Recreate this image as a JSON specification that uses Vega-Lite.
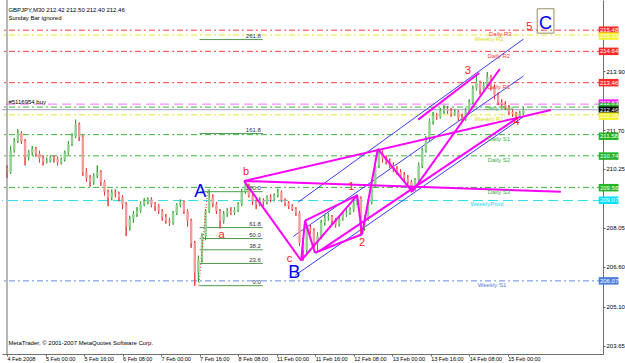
{
"$schema":"https://vega.github.io/schema/vega-lite/v6.json",
"width":601,"height":354,
"autosize":{"type":"none"},
"padding":{"left":2,"top":0,"right":22,"bottom":9},
"background":"#ffffff",
"config":{"view":{"stroke":null},"font":"Liberation Sans","axis":{"grid":false,"domainColor":"#707070","tickColor":"#606060","labelColor":"#000000","labelFont":"Liberation Sans","labelOverlap":false},"axisY":{"labelOverlap":false}},
"resolve":{"scale":{"color":"independent","strokeDash":"independent","strokeWidth":"independent"}},
"datasets":{
"levels":[{"kind":"dR","p":215.43},{"kind":"wR","p":215.25},{"kind":"dR","p":214.64},{"kind":"dR","p":213.47},{"kind":"ord","p":212.67},{"kind":"dS","p":212.56},{"kind":"bid","p":212.46},{"kind":"wR","p":212.27},{"kind":"dS","p":211.53},{"kind":"dS","p":210.74},{"kind":"dS","p":209.56},{"kind":"wP","p":209.07},{"kind":"wS","p":206.07}],
"fib":[{"lab":"261.8","p":215.08},{"lab":"161.8","p":211.57},{"lab":"100.0","p":209.40},{"lab":"61.8","p":208.06},{"lab":"50.0","p":207.65},{"lab":"38.2","p":207.23},{"lab":"23.6","p":206.72},{"lab":"0.0","p":205.89}],
"candles":[
{"i":0,"o":210.28,"h":210.38,"l":209.91,"c":210.13},
{"i":3,"o":210.13,"h":211.11,"l":210.06,"c":210.93},
{"i":6,"o":210.93,"h":211.40,"l":210.86,"c":211.29},
{"i":9,"o":211.29,"h":211.73,"l":211.22,"c":211.58},
{"i":12,"o":211.58,"h":211.65,"l":211.18,"c":211.29},
{"i":15,"o":211.29,"h":211.36,"l":210.38,"c":210.71},
{"i":18,"o":210.71,"h":210.96,"l":210.57,"c":210.86},
{"i":21,"o":210.86,"h":211.11,"l":210.75,"c":211.00},
{"i":24,"o":211.00,"h":211.07,"l":210.71,"c":210.82},
{"i":27,"o":210.82,"h":210.93,"l":210.49,"c":210.64},
{"i":30,"o":210.64,"h":210.75,"l":210.38,"c":210.53},
{"i":33,"o":210.53,"h":210.67,"l":210.46,"c":210.57},
{"i":36,"o":210.57,"h":210.75,"l":210.49,"c":210.67},
{"i":39,"o":210.67,"h":210.75,"l":210.49,"c":210.64},
{"i":42,"o":210.64,"h":210.71,"l":210.38,"c":210.49},
{"i":45,"o":210.49,"h":210.67,"l":210.42,"c":210.60},
{"i":48,"o":210.60,"h":210.93,"l":210.53,"c":210.86},
{"i":51,"o":210.86,"h":211.29,"l":210.78,"c":211.18},
{"i":54,"o":211.18,"h":211.58,"l":211.11,"c":211.47},
{"i":57,"o":211.47,"h":212.09,"l":211.40,"c":211.91},
{"i":60,"o":211.91,"h":211.98,"l":211.29,"c":211.44},
{"i":63,"o":211.44,"h":211.51,"l":209.99,"c":210.13},
{"i":66,"o":210.13,"h":210.28,"l":209.77,"c":209.91},
{"i":69,"o":209.91,"h":210.02,"l":209.59,"c":209.77},
{"i":72,"o":209.77,"h":210.09,"l":209.66,"c":209.99},
{"i":75,"o":209.99,"h":210.38,"l":209.91,"c":210.13},
{"i":78,"o":210.13,"h":210.20,"l":209.62,"c":209.77},
{"i":81,"o":209.77,"h":209.84,"l":209.26,"c":209.40},
{"i":84,"o":209.40,"h":209.48,"l":208.86,"c":209.19},
{"i":87,"o":209.19,"h":209.48,"l":209.08,"c":209.37},
{"i":90,"o":209.37,"h":209.48,"l":209.19,"c":209.33},
{"i":93,"o":209.33,"h":209.40,"l":209.04,"c":209.19},
{"i":96,"o":209.19,"h":209.26,"l":208.75,"c":208.93},
{"i":99,"o":208.93,"h":209.01,"l":207.74,"c":208.10},
{"i":102,"o":208.10,"h":208.50,"l":207.95,"c":208.39},
{"i":105,"o":208.39,"h":208.68,"l":208.24,"c":208.57},
{"i":108,"o":208.57,"h":208.82,"l":208.46,"c":208.68},
{"i":111,"o":208.68,"h":209.04,"l":208.61,"c":208.93},
{"i":114,"o":208.93,"h":209.15,"l":208.86,"c":209.04},
{"i":117,"o":209.04,"h":209.19,"l":208.93,"c":209.11},
{"i":120,"o":209.11,"h":209.19,"l":208.82,"c":208.93},
{"i":123,"o":208.93,"h":209.01,"l":208.68,"c":208.86},
{"i":126,"o":208.86,"h":208.93,"l":208.57,"c":208.68},
{"i":129,"o":208.68,"h":208.75,"l":208.32,"c":208.46},
{"i":132,"o":208.46,"h":208.57,"l":208.21,"c":208.32},
{"i":135,"o":208.32,"h":208.42,"l":208.13,"c":208.24},
{"i":138,"o":208.24,"h":208.68,"l":208.17,"c":208.61},
{"i":141,"o":208.61,"h":208.97,"l":208.53,"c":208.90},
{"i":144,"o":208.90,"h":209.11,"l":208.82,"c":209.01},
{"i":147,"o":209.01,"h":209.08,"l":208.57,"c":208.68},
{"i":150,"o":208.68,"h":208.75,"l":208.10,"c":208.32},
{"i":153,"o":208.32,"h":208.39,"l":207.30,"c":207.48},
{"i":156,"o":207.48,"h":207.56,"l":205.89,"c":206.39},
{"i":159,"o":206.39,"h":207.01,"l":206.03,"c":206.87},
{"i":162,"o":206.87,"h":207.84,"l":206.76,"c":207.74},
{"i":165,"o":207.74,"h":208.75,"l":207.59,"c":208.68},
{"i":168,"o":208.68,"h":209.48,"l":208.61,"c":209.19},
{"i":171,"o":209.19,"h":209.30,"l":208.82,"c":208.93},
{"i":174,"o":208.93,"h":209.01,"l":208.57,"c":208.68},
{"i":177,"o":208.68,"h":208.75,"l":208.03,"c":208.32},
{"i":180,"o":208.32,"h":208.68,"l":208.21,"c":208.57},
{"i":183,"o":208.57,"h":208.79,"l":208.46,"c":208.68},
{"i":186,"o":208.68,"h":208.82,"l":208.53,"c":208.61},
{"i":189,"o":208.61,"h":208.82,"l":208.53,"c":208.72},
{"i":192,"o":208.72,"h":209.01,"l":208.64,"c":208.93},
{"i":195,"o":208.93,"h":209.51,"l":208.86,"c":209.40},
{"i":198,"o":209.40,"h":209.80,"l":209.33,"c":209.62},
{"i":201,"o":209.62,"h":209.70,"l":209.19,"c":209.26},
{"i":204,"o":209.26,"h":209.33,"l":208.90,"c":209.04},
{"i":207,"o":209.04,"h":209.11,"l":208.75,"c":208.93},
{"i":210,"o":208.93,"h":209.19,"l":208.86,"c":209.08},
{"i":213,"o":209.08,"h":209.15,"l":208.86,"c":209.01},
{"i":216,"o":209.01,"h":209.26,"l":208.93,"c":209.19},
{"i":219,"o":209.19,"h":209.30,"l":209.01,"c":209.11},
{"i":222,"o":209.11,"h":209.33,"l":209.04,"c":209.26},
{"i":225,"o":209.26,"h":209.51,"l":209.19,"c":209.37},
{"i":228,"o":209.37,"h":209.44,"l":209.01,"c":209.08},
{"i":231,"o":209.08,"h":209.15,"l":208.86,"c":208.97},
{"i":234,"o":208.97,"h":209.04,"l":208.75,"c":208.86},
{"i":237,"o":208.86,"h":208.93,"l":208.68,"c":208.75},
{"i":240,"o":208.75,"h":208.82,"l":208.50,"c":208.61},
{"i":243,"o":208.61,"h":208.68,"l":207.37,"c":207.48},
{"i":246,"o":207.48,"h":207.66,"l":206.83,"c":207.23},
{"i":249,"o":207.23,"h":208.17,"l":207.12,"c":208.03},
{"i":252,"o":208.03,"h":208.17,"l":207.81,"c":207.95},
{"i":255,"o":207.95,"h":208.03,"l":207.30,"c":207.48},
{"i":258,"o":207.48,"h":207.88,"l":207.12,"c":207.74},
{"i":261,"o":207.74,"h":208.35,"l":207.63,"c":208.24},
{"i":264,"o":208.24,"h":208.57,"l":208.13,"c":208.42},
{"i":267,"o":208.42,"h":208.61,"l":208.32,"c":208.46},
{"i":270,"o":208.46,"h":208.53,"l":208.17,"c":208.32},
{"i":273,"o":208.32,"h":208.42,"l":208.06,"c":208.17},
{"i":276,"o":208.17,"h":208.50,"l":208.10,"c":208.39},
{"i":279,"o":208.39,"h":208.68,"l":208.32,"c":208.57},
{"i":282,"o":208.57,"h":208.75,"l":208.46,"c":208.61},
{"i":285,"o":208.61,"h":208.82,"l":208.53,"c":208.72},
{"i":288,"o":208.72,"h":209.08,"l":208.64,"c":208.97},
{"i":291,"o":208.97,"h":209.30,"l":208.90,"c":209.15},
{"i":294,"o":209.15,"h":209.22,"l":207.81,"c":208.10},
{"i":297,"o":208.10,"h":208.53,"l":207.95,"c":208.39},
{"i":300,"o":208.39,"h":209.11,"l":208.32,"c":209.01},
{"i":303,"o":209.01,"h":209.77,"l":208.93,"c":209.66},
{"i":306,"o":209.66,"h":210.49,"l":209.55,"c":210.38},
{"i":309,"o":210.38,"h":211.00,"l":210.28,"c":210.86},
{"i":312,"o":210.86,"h":210.93,"l":210.49,"c":210.64},
{"i":315,"o":210.64,"h":210.75,"l":210.42,"c":210.53},
{"i":318,"o":210.53,"h":210.64,"l":210.28,"c":210.38},
{"i":321,"o":210.38,"h":210.49,"l":210.13,"c":210.24},
{"i":324,"o":210.24,"h":210.35,"l":210.02,"c":210.13},
{"i":327,"o":210.13,"h":210.24,"l":209.91,"c":210.02},
{"i":330,"o":210.02,"h":210.13,"l":209.80,"c":209.91},
{"i":333,"o":209.91,"h":210.02,"l":209.66,"c":209.77},
{"i":336,"o":209.77,"h":209.84,"l":209.37,"c":209.55},
{"i":339,"o":209.55,"h":209.91,"l":209.44,"c":209.84},
{"i":342,"o":209.84,"h":210.49,"l":209.77,"c":210.38},
{"i":345,"o":210.38,"h":211.04,"l":210.28,"c":210.93},
{"i":348,"o":210.93,"h":211.47,"l":210.86,"c":211.36},
{"i":351,"o":211.36,"h":212.13,"l":211.29,"c":212.02},
{"i":354,"o":212.02,"h":212.38,"l":211.91,"c":212.24},
{"i":357,"o":212.24,"h":212.34,"l":212.09,"c":212.20},
{"i":360,"o":212.20,"h":212.53,"l":212.13,"c":212.42},
{"i":363,"o":212.42,"h":212.63,"l":212.31,"c":212.49},
{"i":366,"o":212.49,"h":212.60,"l":212.31,"c":212.42},
{"i":369,"o":212.42,"h":212.53,"l":212.20,"c":212.31},
{"i":372,"o":212.31,"h":212.49,"l":212.24,"c":212.38},
{"i":375,"o":212.38,"h":212.45,"l":212.05,"c":212.16},
{"i":378,"o":212.16,"h":212.31,"l":212.02,"c":212.13},
{"i":381,"o":212.13,"h":212.53,"l":212.05,"c":212.42},
{"i":384,"o":212.42,"h":212.85,"l":212.34,"c":212.74},
{"i":387,"o":212.74,"h":213.36,"l":212.67,"c":213.25},
{"i":390,"o":213.25,"h":213.76,"l":213.18,"c":213.47},
{"i":393,"o":213.47,"h":213.54,"l":213.03,"c":213.21},
{"i":396,"o":213.21,"h":213.50,"l":213.11,"c":213.40},
{"i":399,"o":213.40,"h":213.87,"l":213.29,"c":213.69},
{"i":402,"o":213.69,"h":213.76,"l":213.18,"c":213.29},
{"i":405,"o":213.29,"h":213.40,"l":212.85,"c":213.00},
{"i":408,"o":213.00,"h":213.11,"l":212.63,"c":212.74},
{"i":411,"o":212.74,"h":212.85,"l":212.60,"c":212.67},
{"i":414,"o":212.67,"h":212.78,"l":212.45,"c":212.56},
{"i":417,"o":212.56,"h":212.63,"l":212.27,"c":212.38},
{"i":420,"o":212.38,"h":212.49,"l":212.20,"c":212.31},
{"i":423,"o":212.31,"h":212.38,"l":212.13,"c":212.24},
{"i":426,"o":212.24,"h":212.42,"l":212.16,"c":212.34},
{"i":429,"o":212.34,"h":212.56,"l":212.27,"c":212.46}
],
"mag":[
{"g":"L1","i":197.0,"p":209.80},{"g":"L1","i":244.4,"p":206.83},
{"g":"L2","i":197.0,"p":209.80},{"g":"L2","i":460.1,"p":209.40},
{"g":"L3","i":197.0,"p":209.80},{"g":"L3","i":451.9,"p":212.45},
{"g":"L4","i":244.4,"p":206.83},{"g":"L4","i":290.9,"p":209.26},
{"g":"L5","i":290.9,"p":209.26},{"g":"L5","i":295.0,"p":207.81},
{"g":"L6","i":295.0,"p":207.81},{"g":"L6","i":308.1,"p":211.00},
{"g":"L7","i":308.1,"p":211.00},{"g":"L7","i":336.7,"p":209.40},
{"g":"L8","i":336.7,"p":209.40},{"g":"L8","i":409.4,"p":213.98},
{"g":"L9","i":259.9,"p":207.19},{"g":"L9","i":423.3,"p":212.13},
{"g":"L10","i":341.6,"p":212.09},{"g":"L10","i":392.3,"p":213.83},
{"g":"L12","i":247.6,"p":208.32},{"g":"L12","i":290.9,"p":209.26},
{"g":"L13","i":255.8,"p":207.12},{"g":"L13","i":295.0,"p":207.81},
{"g":"L14","i":247.6,"p":208.32},{"g":"L14","i":255.8,"p":207.12},
{"g":"L15","i":244.4,"p":206.83},{"g":"L15","i":247.6,"p":208.32}
],
"blue":[
{"g":"U","i":241.9,"p":209.01},{"g":"U","i":429.1,"p":215.10},
{"g":"M","i":237.8,"p":207.73},{"g":"M","i":429.1,"p":213.72},
{"g":"L","i":239.5,"p":206.28},{"g":"L","i":429.1,"p":212.20}
],
"reddot":[{"g":"r","i":159.4,"p":205.89},{"g":"r","i":166.7,"p":209.48}],
"waves":[{"t":"a","i":178.2,"p":207.77},{"t":"b","i":198.6,"p":210.13},{"t":"c","i":234.6,"p":206.90},{"t":"1","i":286.0,"p":209.57},{"t":"2","i":295.0,"p":207.48},{"t":"3","i":382.9,"p":213.90},{"t":"4","i":423.3,"p":212.00},{"t":"5","i":434.0,"p":215.55}],
"big":[{"t":"A","i":160.6,"p":209.37},{"t":"B","i":238.6,"p":206.36},{"t":"C","i":447.4,"p":215.68}],
"lvtext":[{"t":"Daily R3","kind":"dR","i":409.9,"p":215.28},{"t":"Weekly R2","kind":"wR","i":400.5,"p":215.10},{"t":"Daily R2","kind":"dR","i":408.6,"p":214.48},{"t":"Daily R1","kind":"dR","i":408.6,"p":213.32},{"t":"Daily Pivot","kind":"dS","i":409.0,"p":212.53},{"t":"Weekly R1","kind":"wR","i":400.5,"p":212.13},{"t":"Daily S1","kind":"dS","i":408.6,"p":211.36},{"t":"Daily S2","kind":"dS","i":408.6,"p":210.57},{"t":"Daily S3","kind":"dS","i":408.6,"p":209.40},{"t":"WeeklyPivot","kind":"wP","i":398.8,"p":208.93},{"t":"Weekly S1","kind":"wS","i":402.9,"p":205.92}],
"info":[{"t":"GBPJPY,M30  212.42 212.50 212.40 212.46","i":1.2,"p":216.19},{"t":"Sunday Bar ignored","i":1.2,"p":215.90},{"t":"#5116954 buy","i":1.2,"p":212.74},{"t":"MetaTrader, © 2001-2007 MetaQuotes Software Corp.","i":1.2,"p":203.74}],
"boxes":[{"kind":"dR","p":215.43,"t":"215.48"},{"kind":"wR","p":215.21,"t":"215.33"},{"kind":"dR","p":214.64,"t":"214.64"},{"kind":"dR","p":213.47,"t":"213.46"},{"kind":"ord","p":212.71,"t":"212.63"},{"kind":"dS","p":212.58,"t":""},{"kind":"bid","p":212.44,"t":"212.46"},{"kind":"wR","p":212.22,"t":"212.26"},{"kind":"dS","p":211.47,"t":"211.58"},{"kind":"dS","p":210.73,"t":"210.74"},{"kind":"dS","p":209.55,"t":"209.56"},{"kind":"wP","p":209.08,"t":"209.07"},{"kind":"wS","p":206.07,"t":"206.07"}],
"one":[{"k":1}]
},
"layer":[
{"data":{"name":"levels"},"mark":{"type":"rule"},
 "encoding":{
  "y":{"field":"p","type":"quantitative","scale":{"domain":[203.526,216.371],"nice":false,"zero":false}},
  "color":{"field":"kind","type":"nominal","scale":{"domain":["dR","wR","ord","dS","bid","wP","wS"],"range":["#ff3c3c","#e6e632","#ff6cff","#3cb43c","#a0a0c0","#2ee0f0","#6a8ce6"]},"legend":null},
  "strokeDash":{"field":"kind","type":"nominal","scale":{"domain":["dR","wR","ord","dS","bid","wP","wS"],"range":[[6,3,2,3],[6,3,2,3],[9,5],[6,3,2,3],[1,0],[10,5],[6,3,2,3]]},"legend":null},
  "strokeWidth":{"field":"kind","type":"nominal","scale":{"domain":["dR","wR","ord","dS","bid","wP","wS"],"range":[1,1,2,1,1,1,1]},"legend":null}
 }},
{"data":{"name":"candles"},"mark":{"type":"rule","strokeWidth":1},
 "encoding":{
  "x":{"field":"i","type":"quantitative","scale":{"domain":[0,491],"nice":false,"zero":false},
       "axis":{"orient":"bottom","title":null,"values":[0,32,64,96,128,160,192,224,256,288,320,352,384,416],"labelExpr":"['4 Feb 2008','5 Feb 00:00','5 Feb 16:00','6 Feb 08:00','7 Feb 00:00','7 Feb 16:00','8 Feb 08:00','11 Feb 00:00','11 Feb 16:00','12 Feb 08:00','13 Feb 00:00','13 Feb 16:00','14 Feb 08:00','15 Feb 00:00'][round(datum.value/32)]","labelAlign":"left","labelBaseline":"top","labelFontSize":5.5,"tickSize":2,"labelPadding":0,"labelOverlap":false,"labelFlush":false,"labelBound":false,"grid":false,"domain":true}},
  "y":{"field":"l","type":"quantitative","scale":{"domain":[203.526,216.371],"nice":false,"zero":false},
       "axis":{"orient":"right","title":null,"values":[216.10,213.90,213.15,211.70,210.95,210.25,208.80,208.05,207.30,206.60,205.85,205.10,204.40,203.65],"format":".2f","labelFontSize":6,"tickSize":2,"labelPadding":1,"labelOverlap":false,"labelBound":false,"labelFlush":false,"grid":false,"domain":true}},
  "y2":{"field":"h"},
  "color":{"condition":{"test":"datum.c >= datum.o","value":"#3aa63a"},"value":"#ef3b3b"}}},
{"data":{"name":"fib"},"mark":{"type":"rule","color":"#4e9a4e","strokeWidth":1},
 "encoding":{"x":{"datum":160,"type":"quantitative"},"x2":{"datum":212.5},"y":{"field":"p","type":"quantitative"}}},
{"data":{"name":"blue"},"mark":{"type":"line","color":"#3c3cff","strokeWidth":1},
 "encoding":{"x":{"field":"i","type":"quantitative"},"y":{"field":"p","type":"quantitative"},"detail":{"field":"g"}}},
{"data":{"name":"candles"},"mark":{"type":"rule","strokeWidth":1},
 "encoding":{"x":{"field":"i","type":"quantitative"},"y":{"field":"l","type":"quantitative"},"y2":{"field":"h"},
  "color":{"condition":{"test":"datum.c >= datum.o","value":"#3aa63a"},"value":"#ef3b3b"}}},
{"data":{"name":"candles"},"mark":{"type":"bar","width":2.4},
 "encoding":{"x":{"field":"i","type":"quantitative"},"y":{"field":"o","type":"quantitative"},"y2":{"field":"c"},
  "color":{"condition":{"test":"datum.c >= datum.o","value":"#8fd18f"},"value":"#f59a9a"}}},
{"data":{"name":"mag"},"mark":{"type":"line","color":"#ff00ff","strokeWidth":2},
 "encoding":{"x":{"field":"i","type":"quantitative"},"y":{"field":"p","type":"quantitative"},"detail":{"field":"g"}}},
{"data":{"name":"reddot"},"mark":{"type":"line","color":"#ff2020","strokeWidth":1,"strokeDash":[1,2]},
 "encoding":{"x":{"field":"i","type":"quantitative"},"y":{"field":"p","type":"quantitative"},"detail":{"field":"g"}}},
{"data":{"name":"fib"},"mark":{"type":"text","align":"right","baseline":"bottom","fontSize":6,"color":"#303030","dy":-0.5},
 "encoding":{"x":{"datum":210.9,"type":"quantitative"},"y":{"field":"p","type":"quantitative"},"text":{"field":"lab"}}},
{"data":{"name":"lvtext"},"mark":{"type":"text","align":"center","baseline":"middle","fontSize":6},
 "encoding":{"x":{"field":"i","type":"quantitative"},"y":{"field":"p","type":"quantitative"},"text":{"field":"t"},
  "color":{"field":"kind","type":"nominal","scale":{"domain":["dR","wR","dS","wP","wS"],"range":["#ff3c3c","#d8d820","#3cb43c","#20d8f0","#5a7de0"]},"legend":null}}},
{"data":{"name":"waves"},"mark":{"type":"text","align":"center","baseline":"middle","fontSize":11,"color":"#ff1a1a"},
 "encoding":{"x":{"field":"i","type":"quantitative"},"y":{"field":"p","type":"quantitative"},"text":{"field":"t"}}},
{"data":{"name":"big"},"mark":{"type":"text","align":"center","baseline":"middle","fontSize":18,"color":"#0000ff"},
 "encoding":{"x":{"field":"i","type":"quantitative"},"y":{"field":"p","type":"quantitative"},"text":{"field":"t"}}},
{"data":{"name":"one"},"mark":{"type":"rect","filled":false,"stroke":"#9c8c64","strokeWidth":1},
 "encoding":{"x":{"datum":440.5,"type":"quantitative"},"x2":{"datum":454.4},"y":{"datum":216.23,"type":"quantitative"},"y2":{"datum":215.32}}},
{"data":{"name":"info"},"mark":{"type":"text","align":"left","baseline":"middle","fontSize":6,"color":"#000000"},
 "encoding":{"x":{"field":"i","type":"quantitative"},"y":{"field":"p","type":"quantitative"},"text":{"field":"t"}}},
{"data":{"name":"boxes"},"mark":{"type":"bar","height":7.5},
 "encoding":{"x":{"datum":491.6,"type":"quantitative"},"x2":{"datum":508},"y":{"field":"p","type":"quantitative"},
  "color":{"field":"kind","type":"nominal","scale":{"domain":["dR","wR","ord","dS","bid","wP","wS"],"range":["#ff2a2a","#f2f22a","#ff22ff","#22b422","#000000","#00e0ff","#4a7ed8"]},"legend":null}}},
{"data":{"name":"boxes"},"mark":{"type":"text","align":"left","baseline":"middle","fontSize":6,"color":"#ffffff"},
 "encoding":{"x":{"datum":492.6,"type":"quantitative"},"y":{"field":"p","type":"quantitative"},"text":{"field":"t"}}},
{"data":{"name":"one"},"mark":{"type":"rule","color":"#707070","strokeWidth":1},
 "encoding":{"x":{"datum":0,"type":"quantitative"}}}
]
}
